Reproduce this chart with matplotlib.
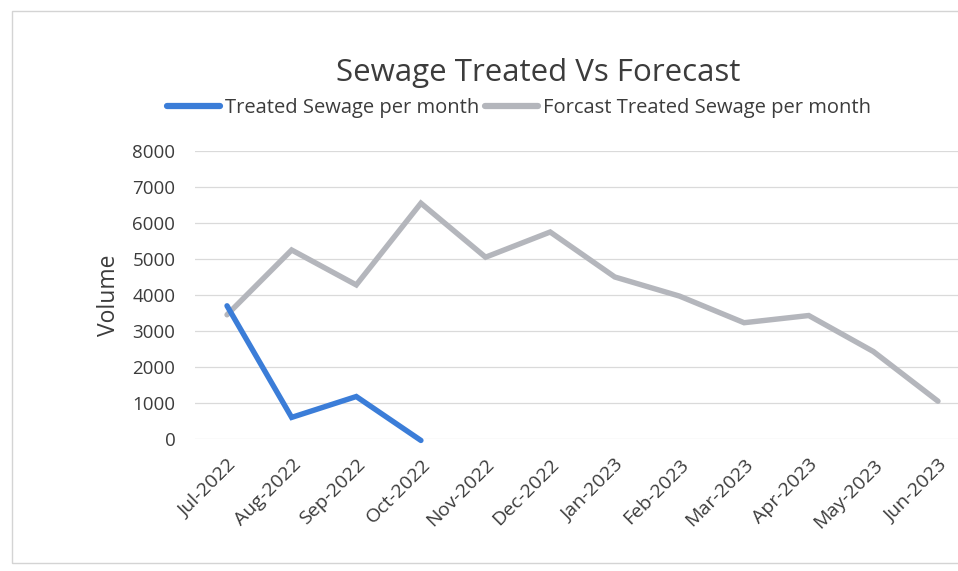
import matplotlib
matplotlib.use("Agg")
import matplotlib.pyplot as plt
import matplotlib.transforms as mtransforms
from matplotlib.patches import Rectangle
from matplotlib.lines import Line2D

months = ["Jul-2022", "Aug-2022", "Sep-2022", "Oct-2022", "Nov-2022", "Dec-2022",
          "Jan-2023", "Feb-2023", "Mar-2023", "Apr-2023", "May-2023", "Jun-2023"]
treated = [3700, 600, 1180, -40]
forecast = [3450, 5250, 4280, 6550, 5050, 5750, 4500, 3970, 3230, 3430, 2430, 1050]
yticks = [0, 1000, 2000, 3000, 4000, 5000, 6000, 7000, 8000]

title = "Sewage Treated Vs Forecast"
s1_name = "Treated Sewage per month"
s2_name = "Forcast Treated Sewage per month"
ylabel = "Volume"

BLUE = "#3b7dd8"
GRAY = "#b4b6bc"
TXT = "#3c3c3c"
FONT = "Open Sans"

W, H = 958, 571
fig = plt.figure(figsize=(W / 100, H / 100), dpi=100)
plt.rcParams['font.family'] = [FONT, 'DejaVu Sans']

# chart border (right edge falls outside the picture)
fig.patches.append(Rectangle((12 / W, 1 - 563 / H), 1.2, (563 - 11) / H,
                             transform=fig.transFigure, fill=False,
                             edgecolor="#d4d4d4", linewidth=1.0, clip_on=False))

left, right, top, bottom = 194.7, 970.3, 151, 439
ax = fig.add_axes([left / W, 1 - bottom / H, (right - left) / W, (bottom - top) / H])

x = list(range(len(months)))
ax.plot(x, forecast, color=GRAY, linewidth=3.9, solid_capstyle='round',
        solid_joinstyle='miter', zorder=3, clip_on=False)
ax.plot(x[:len(treated)], treated, color=BLUE, linewidth=3.9, solid_capstyle='round',
        solid_joinstyle='miter', zorder=4, clip_on=False)

ax.set_xlim(-0.5, len(months) - 0.5)
ax.set_ylim(0, 8000)
ax.set_yticks(yticks)
ax.set_yticklabels([str(v) for v in yticks])
ax.set_xticks(x)
ax.set_xticklabels(months, rotation=45, ha='right', va='top', rotation_mode='anchor')
offset = mtransforms.ScaledTranslation(-5 / 100, -4 / 100, fig.dpi_scale_trans)
for lab in ax.get_xticklabels():
    lab.set_transform(lab.get_transform() + offset)
ax.grid(axis='y', color="#dadada", linewidth=0.9)
ax.set_axisbelow(True)
for s in ax.spines.values():
    s.set_visible(False)
ax.tick_params(axis='y', length=0, pad=14, labelsize=13.5, labelcolor=TXT)
ax.tick_params(axis='x', length=0, pad=12, labelsize=14, labelcolor=TXT)

ax.set_ylabel(ylabel, fontsize=16.5, color=TXT, labelpad=8)

fig.text(538 / W, 1 - 73 / H, title, ha='center', va='center', fontsize=22.5, color=TXT)

handles = [Line2D([], [], color=BLUE, linewidth=4.5, solid_capstyle='round'),
           Line2D([], [], color=GRAY, linewidth=4.5, solid_capstyle='round')]
fig.legend(handles, [s1_name, s2_name], loc='center', bbox_to_anchor=(519 / W, 1 - 108 / H),
           ncol=2, frameon=False, fontsize=14.5, labelcolor=TXT, handlelength=2.6,
           handletextpad=0.25, columnspacing=0.3, borderaxespad=0)

fig.savefig("out.png", dpi=100, facecolor="white")
